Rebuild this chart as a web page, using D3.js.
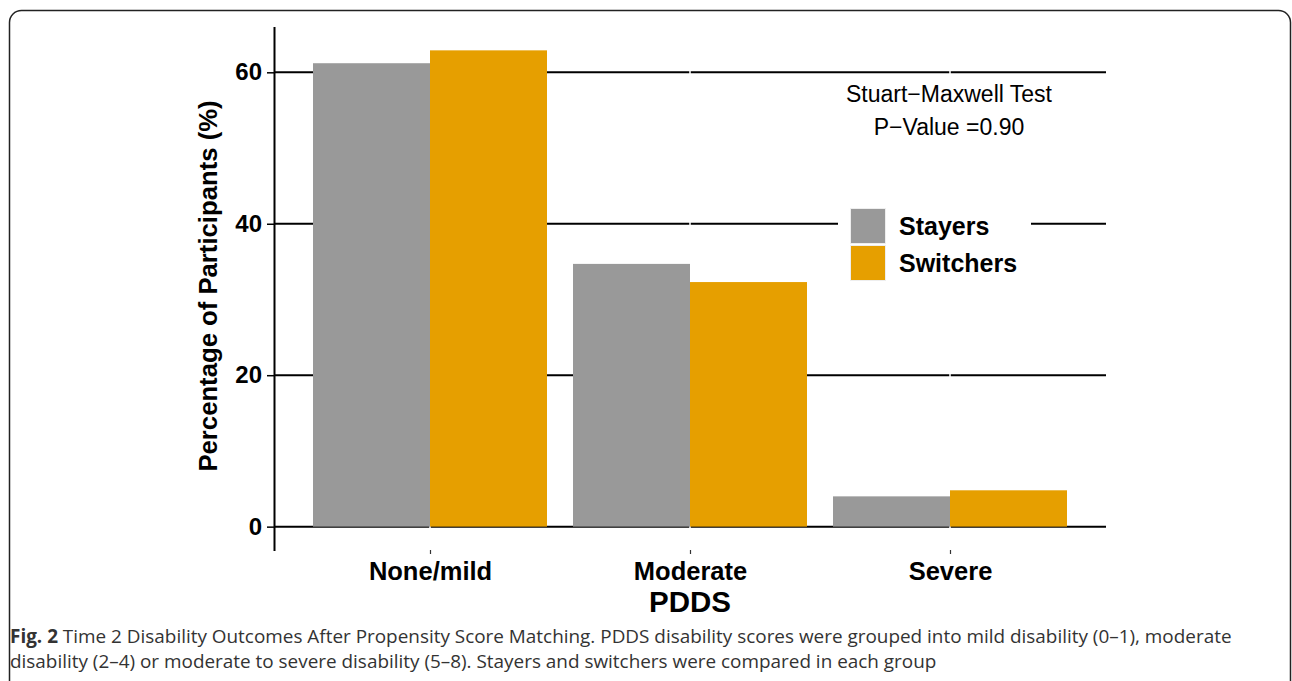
<!DOCTYPE html>
<html>
<head>
<meta charset="utf-8">
<script src="https://cdn.jsdelivr.net/npm/d3@7"></script>
<style>
  body { margin: 0; background: #fff; }
  svg { display: block; }
</style>
</head>
<body>
<div id="chart"></div>
<script>
const categories = ['None/mild', 'Moderate', 'Severe'];
const groups = ['Stayers', 'Switchers'];
const stayers = [61.2, 34.7, 4.0];
const switchers = [62.9, 32.3, 4.8];
const yTicks = [0, 20, 40, 60];
const colors = ['#999999', '#E69F00'];
const captionLines = [
  ['Fig. 2', ' Time 2 Disability Outcomes After Propensity Score Matching. PDDS disability scores were grouped into mild disability (0\u20131), moderate'],
  ['', 'disability (2\u20134) or moderate to severe disability (5\u20138). Stayers and switchers were compared in each group']
];

const W = 1292, H = 681;
const font = '"Liberation Sans", Arial, Helvetica, sans-serif';

const svg = d3.select('#chart')
  .append('svg')
  .attr('width', W)
  .attr('height', H);

// outer frame
svg.append('rect')
  .attr('x', 9.5).attr('y', 10.5)
  .attr('width', 1281).attr('height', 720)
  .attr('rx', 12)
  .attr('fill', 'none')
  .attr('stroke', '#222')
  .attr('stroke-width', 1.5);

const rows = categories.map((c, i) => ({ cat: c, values: [stayers[i], switchers[i]] }));

const x = d3.scalePoint()
  .domain(categories)
  .range([274, 1106])
  .padding(0.6);

const xInner = d3.scaleBand()
  .domain(groups)
  .range([-117, 117]);

const color = d3.scaleOrdinal().domain(groups).range(colors);

const y = d3.scaleLinear()
  .domain([-3.15, 66.05])
  .range([550.5, 26.5]);

// horizontal gridlines
svg.append('g')
  .selectAll('line')
  .data(yTicks)
  .join('line')
  .attr('x1', 274).attr('x2', 1106)
  .attr('y1', d => y(d)).attr('y2', d => y(d))
  .attr('stroke', '#000')
  .attr('stroke-width', 2);

// white vertical gridlines at categories
svg.append('g')
  .selectAll('line')
  .data(categories)
  .join('line')
  .attr('x1', d => x(d)).attr('x2', d => x(d))
  .attr('y1', 26.5).attr('y2', 550.5)
  .attr('stroke', '#fff')
  .attr('stroke-width', 1.5);

// bars
svg.append('g')
  .selectAll('g')
  .data(rows)
  .join('g')
  .attr('transform', d => `translate(${x(d.cat)},0)`)
  .selectAll('rect')
  .data(d => d.values.map((v, j) => ({ g: groups[j], v })))
  .join('rect')
  .attr('x', d => xInner(d.g))
  .attr('width', xInner.bandwidth())
  .attr('y', d => y(d.v))
  .attr('height', d => y(0) - y(d.v))
  .attr('fill', d => color(d.g));

// y axis
const yAxis = d3.axisLeft(y)
  .tickValues(yTicks)
  .tickSize(7)
  .tickPadding(5)
  .tickSizeOuter(0);

const yg = svg.append('g')
  .attr('transform', 'translate(274,0)')
  .call(yAxis);
yg.select('.domain').attr('stroke', '#000').attr('stroke-width', 2);
yg.selectAll('.tick line').attr('stroke', '#000').attr('stroke-width', 1.5);
yg.selectAll('.tick text')
  .attr('fill', '#000')
  .style('font-family', font)
  .style('font-weight', 'bold')
  .style('font-size', '24px');

// x axis (ticks and labels only)
const xAxis = d3.axisBottom(x)
  .tickSize(4)
  .tickPadding(6)
  .tickSizeOuter(0);

const xg = svg.append('g')
  .attr('transform', 'translate(0,550)')
  .call(xAxis);
xg.select('.domain').remove();
xg.selectAll('.tick line').attr('stroke', '#333').attr('stroke-width', 1.2);
xg.selectAll('.tick text')
  .attr('fill', '#000')
  .attr('dy', 0)
  .attr('y', 30)
  .style('font-family', font)
  .style('font-weight', 'bold')
  .style('font-size', '25.5px');

// axis titles
svg.append('text')
  .attr('x', 690).attr('y', 612)
  .attr('text-anchor', 'middle')
  .style('font-family', font)
  .style('font-weight', 'bold')
  .style('font-size', '29.5px')
  .text('PDDS');

svg.append('text')
  .attr('transform', 'translate(217,286) rotate(-90)')
  .attr('text-anchor', 'middle')
  .style('font-family', font)
  .style('font-weight', 'bold')
  .style('font-size', '25.7px')
  .text('Percentage of Participants (%)');

// annotation
const note = svg.append('text')
  .attr('text-anchor', 'middle')
  .style('font-family', font)
  .style('font-size', '23px')
  .attr('fill', '#000');
note.append('tspan').attr('x', 949).attr('y', 102).text('Stuart\u2212Maxwell Test');
note.append('tspan').attr('x', 949).attr('y', 135).text('P\u2212Value =0.90');

// legend
const legend = svg.append('g');
legend.append('rect')
  .attr('x', 838).attr('y', 198)
  .attr('width', 193).attr('height', 92)
  .attr('fill', '#fff');

const item = legend.selectAll('g')
  .data(groups)
  .join('g')
  .attr('transform', (d, i) => `translate(850,${208 + i * 37})`);

item.append('rect')
  .attr('x', 0.5).attr('y', 0.5)
  .attr('width', 35).attr('height', 35)
  .attr('fill', d => color(d))
  .attr('stroke', '#eeeeee')
  .attr('stroke-width', 1);

item.append('text')
  .attr('x', 49).attr('y', 27)
  .style('font-family', font)
  .style('font-weight', 'bold')
  .style('font-size', '25px')
  .text(d => d);

// caption
const cap = svg.append('g')
  .style('font-family', '"Open Sans", "Noto Sans", sans-serif')
  .attr('fill', '#333');

const capText = cap.selectAll('text')
  .data(captionLines)
  .join('text')
  .attr('x', 10)
  .attr('y', (d, i) => 643 + i * 25)
  .style('font-size', '16px');

capText.append('tspan')
  .style('font-weight', 'bold')
  .text(d => d[0]);
capText.append('tspan')
  .text(d => d[1]);

// fit caption font so that the first line spans like the reference
const len = capText.nodes()[0].getComputedTextLength();
const fs = 16 * 1223 / len;
capText.style('font-size', fs + 'px');
</script>
</body>
</html>
